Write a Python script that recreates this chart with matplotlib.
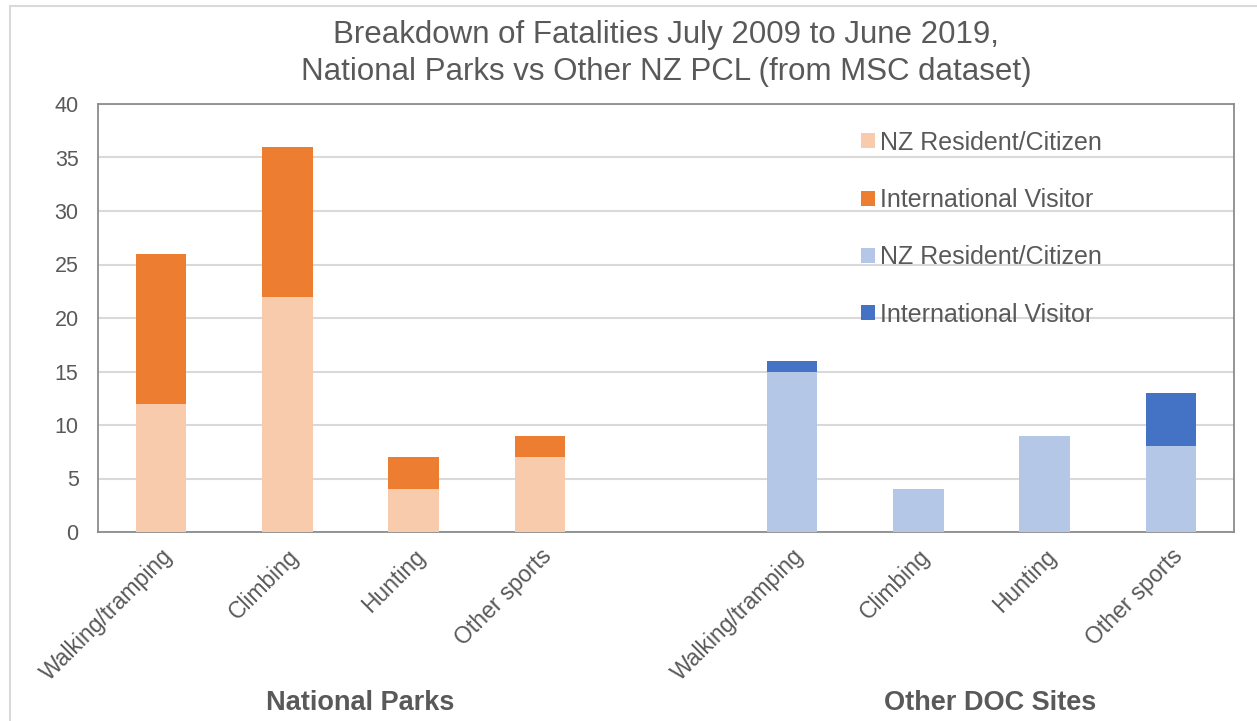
import numpy as np
import matplotlib.pyplot as plt
from matplotlib.patches import Rectangle

plt.rcParams['font.family'] = ['Liberation Sans', 'DejaVu Sans']

activities = ['Walking/tramping', 'Climbing', 'Hunting', 'Other sports']
np_resident = [12, 22, 4, 7]
np_visitor = [14, 14, 3, 2]
doc_resident = [15, 4, 9, 8]
doc_visitor = [1, 0, 0, 5]
groups = ['National Parks', 'Other DOC Sites']

c_np_res = '#F8CBAD'
c_np_vis = '#ED7D31'
c_doc_res = '#B4C7E7'
c_doc_vis = '#4472C4'
txt = '#595959'

fig = plt.figure(figsize=(12.57, 7.21), dpi=100)
ax = fig.add_axes([98 / 1257, 1 - 532 / 721, 1136 / 1257, 428 / 721])

# outer chart border
fig.patches.append(Rectangle((10 / 1257, -0.01), 1.1, 1 - 6 / 721 + 0.01,
                             transform=fig.transFigure, fill=False,
                             edgecolor='#D9D9D9', lw=1.5))

x_np = np.arange(4)
x_doc = np.arange(5, 9)
w = 0.4

ax.bar(x_np, np_resident, w, color=c_np_res, label='NZ Resident/Citizen', zorder=3)
ax.bar(x_np, np_visitor, w, bottom=np_resident, color=c_np_vis,
       label='International Visitor', zorder=3)
ax.bar(x_doc, doc_resident, w, color=c_doc_res, label='NZ Resident/Citizen', zorder=3)
ax.bar(x_doc, doc_visitor, w, bottom=doc_resident, color=c_doc_vis,
       label='International Visitor', zorder=3)

ax.set_xlim(-0.5, 8.5)
ax.set_ylim(0, 40)
ax.set_yticks(range(0, 41, 5))
ax.yaxis.grid(True, color='#D9D9D9', lw=1.5, zorder=0)
ax.tick_params(axis='both', length=0, colors=txt)
ax.tick_params(axis='y', pad=14, labelsize=15.5)
ax.tick_params(axis='x', pad=9, labelsize=16.5)
ax.set_xticks(list(x_np) + list(x_doc))
ax.set_xticklabels(activities + activities, rotation=45, ha='right',
                   rotation_mode='anchor')
for s in ax.spines.values():
    s.set_color('#8C8C8C')
    s.set_linewidth(1.3)

ax.set_title('Breakdown of Fatalities July 2009 to June 2019,\n'
             'National Parks vs Other NZ PCL (from MSC dataset)',
             fontsize=22.5, color=txt, pad=17, linespacing=1.3)

ax.legend(loc='upper left', bbox_to_anchor=(0.652, 0.99), frameon=False,
          fontsize=18, labelcolor=txt, handlelength=0.55, handleheight=0.55,
          handletextpad=0.2, labelspacing=1.33)

fig.text(360 / 1257, 1 - 703 / 721, groups[0], ha='center', va='center',
         fontsize=19.5, fontweight='bold', color=txt)
fig.text(990 / 1257, 1 - 703 / 721, groups[1], ha='center', va='center',
         fontsize=19.5, fontweight='bold', color=txt)

fig.savefig('out.png', dpi=100)
